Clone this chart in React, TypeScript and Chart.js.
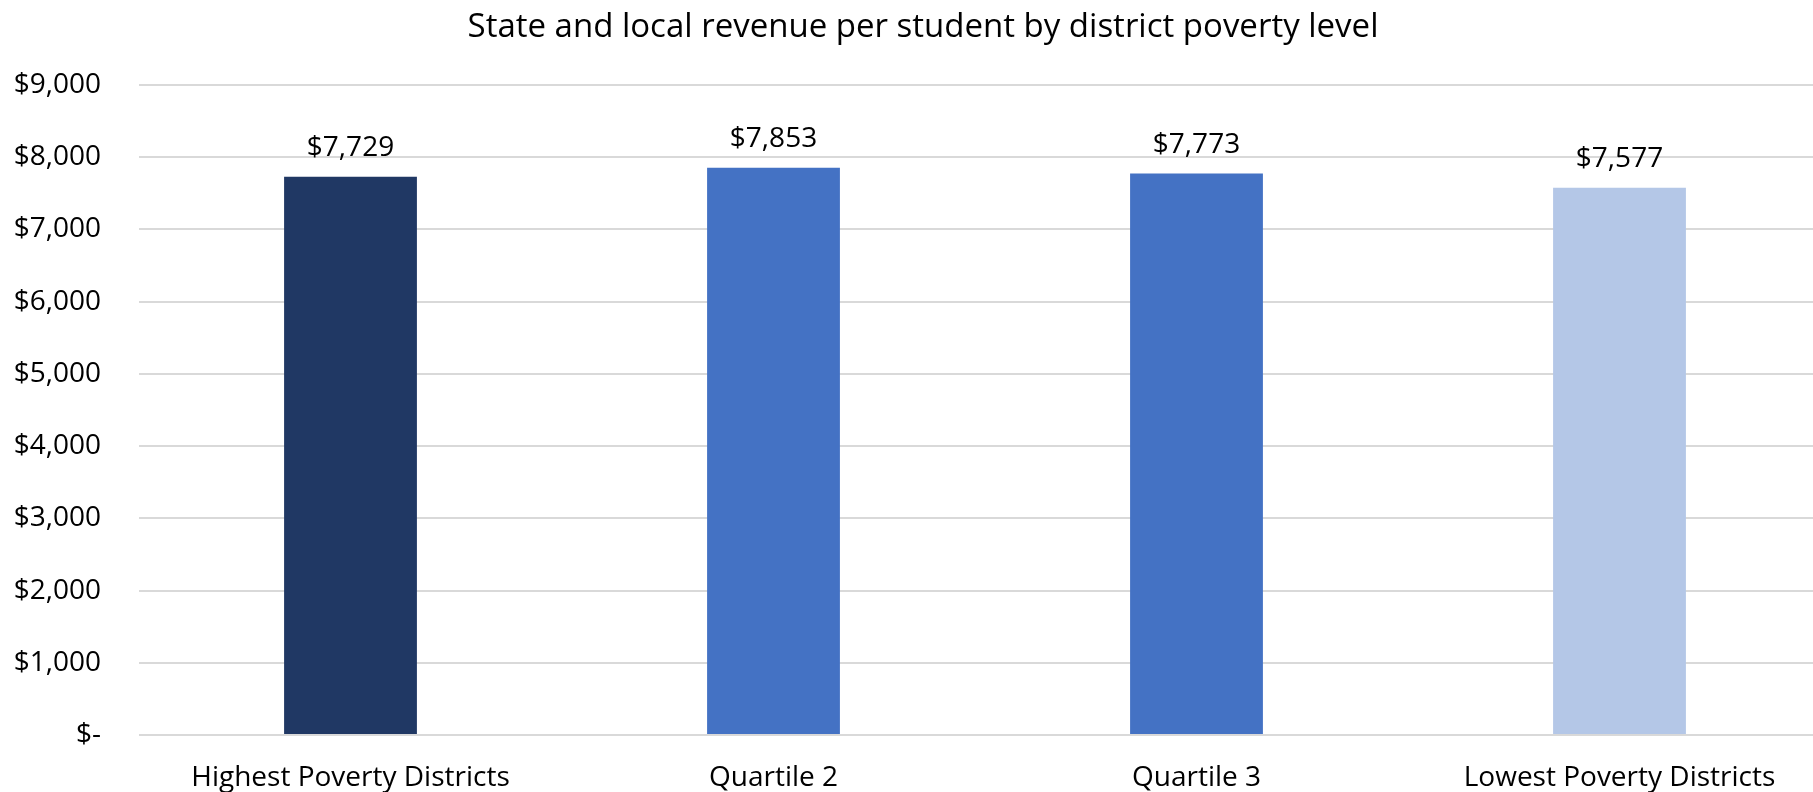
import React, { useEffect, useRef } from 'react';
import { Chart, registerables } from 'chart.js';

Chart.register(...registerables);

const chartTitle = 'State and local revenue per student by district poverty level';
const categories = ['Highest Poverty Districts', 'Quartile 2', 'Quartile 3', 'Lowest Poverty Districts'];
const revenue = [7729, 7853, 7773, 7577];
const barColors = ['#203864', '#4472C4', '#4472C4', '#B4C7E7'];
const yMin = 0;
const yMax = 9000;
const yStep = 1000;

const FONT = '"Open Sans", sans-serif';
const CANVAS_W = 1846;
const CANVAS_H = 792;

const fmtMoney = (v: number) => (v === 0 ? '$-' : '$' + v.toLocaleString('en-US'));

const valueLabelPlugin = {
  id: 'valueLabels',
  afterDatasetsDraw(chart: any) {
    const ctx = chart.ctx;
    const meta = chart.getDatasetMeta(0);
    ctx.save();
    ctx.font = `28px ${FONT}`;
    ctx.fillStyle = '#000000';
    ctx.textAlign = 'center';
    ctx.textBaseline = 'alphabetic';
    meta.data.forEach((el: any, i: number) => {
      ctx.fillText(fmtMoney(revenue[i]), el.x, el.y - 21);
    });
    ctx.restore();
  },
};

const titlePlugin = {
  id: 'customTitle',
  afterDraw(chart: any) {
    const ctx = chart.ctx;
    ctx.save();
    ctx.font = `33px ${FONT}`;
    ctx.fillStyle = '#000000';
    ctx.textAlign = 'center';
    ctx.textBaseline = 'alphabetic';
    ctx.fillText(chartTitle, chart.width / 2, 37);
    ctx.restore();
  },
};

export default function App() {
  const canvasRef = useRef<HTMLCanvasElement | null>(null);

  useEffect(() => {
    if (!canvasRef.current) return;
    const chart = new Chart(canvasRef.current, {
      type: 'bar',
      data: {
        labels: categories,
        datasets: [
          {
            data: revenue,
            backgroundColor: barColors,
            borderWidth: 0,
            barPercentage: 0.314,
            categoryPercentage: 1,
          },
        ],
      },
      options: {
        responsive: false,
        animation: false,
        layout: { padding: { top: 85, right: 15, bottom: 0, left: 0 } },
        plugins: {
          legend: { display: false },
          title: { display: false },
          tooltip: { enabled: false },
        },
        scales: {
          x: {
            grid: { display: false },
            border: { display: false },
            ticks: {
              color: '#000000',
              font: { family: FONT, size: 28 },
              padding: 18,
              maxRotation: 0,
              autoSkip: false,
            },
            afterFit: (scale: any) => {
              scale.height = 57;
            },
          },
          y: {
            min: yMin,
            max: yMax,
            grid: { color: '#D9D9D9', lineWidth: 2, drawTicks: false },
            border: { display: false },
            ticks: {
              stepSize: yStep,
              color: '#000000',
              font: { family: FONT, size: 28 },
              padding: 38,
              callback: (v: any) => fmtMoney(Number(v)),
            },
            afterFit: (scale: any) => {
              scale.width = 139;
            },
          },
        },
      },
      plugins: [valueLabelPlugin, titlePlugin],
    });
    return () => chart.destroy();
  }, []);

  return (
    <div
      style={{
        position: 'fixed',
        left: 0,
        top: 0,
        width: 1813,
        height: 792,
        overflow: 'hidden',
        background: '#ffffff',
      }}
    >
      <canvas
        ref={canvasRef}
        width={CANVAS_W}
        height={CANVAS_H}
        style={{ width: CANVAS_W, height: CANVAS_H, display: 'block' }}
      />
    </div>
  );
}
